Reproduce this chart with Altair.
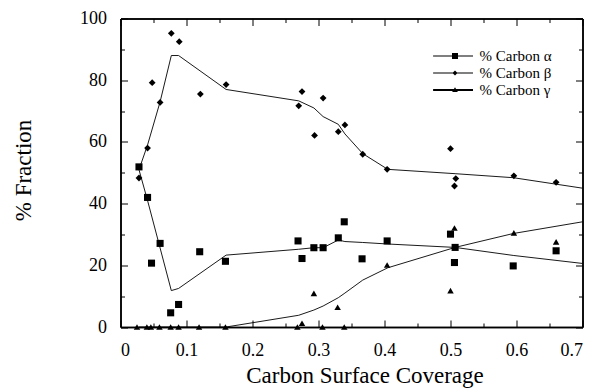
import altair as alt
import pandas as pd

# ---- data ----
series_names = ["% Carbon α", "% Carbon β", "% Carbon γ"]

alpha_x = [0.028, 0.041, 0.047, 0.060, 0.076, 0.088, 0.120, 0.159, 0.269, 0.275, 0.293,
           0.307, 0.330, 0.339, 0.366, 0.404, 0.500, 0.507, 0.506, 0.595, 0.660]
alpha_y = [51.9, 42.0, 20.7, 27.1, 4.6, 7.3, 24.4, 21.3, 27.9, 22.2, 25.7,
           25.7, 28.9, 34.1, 22.1, 27.9, 30.1, 25.8, 20.9, 19.8, 24.7]

beta_x = [0.028, 0.041, 0.048, 0.060, 0.077, 0.089, 0.121, 0.160, 0.270, 0.275, 0.294,
          0.307, 0.330, 0.340, 0.367, 0.404, 0.500, 0.508, 0.506, 0.596, 0.660]
beta_y = [48.3, 58.0, 79.2, 72.8, 95.2, 92.5, 75.5, 78.6, 71.7, 76.3, 62.1,
          74.2, 63.3, 65.5, 56.0, 51.1, 57.8, 48.1, 45.7, 49.0, 46.9]

gamma_x = [0.025, 0.040, 0.046, 0.059, 0.076, 0.088, 0.119, 0.159, 0.268, 0.275, 0.293,
           0.306, 0.329, 0.339, 0.404, 0.500, 0.506, 0.596, 0.660]
gamma_y = [0, 0, 0, 0, 0, 0, 0, 0, 0, 1.2, 10.9,
           0, 6.4, 0, 20.1, 11.8, 32.1, 30.5, 27.6]

line_x = [0.028, 0.041, 0.060, 0.077, 0.088, 0.160, 0.270, 0.293, 0.307, 0.330, 0.340,
          0.367, 0.405, 0.507, 0.595, 0.700]
alpha_line = [51.0, 41.0, 25.6, 11.8, 12.5, 23.3, 25.2, 25.7, 25.7, 28.2, 27.7,
              27.4, 26.9, 25.8, 23.2, 20.6]
beta_line = [51.0, 59.0, 73.0, 88.0, 88.0, 77.0, 73.3, 71.0, 68.2, 65.7, 62.6,
             56.2, 51.1, 49.7, 48.4, 45.0]
gamma_line = [0, 0, 0, 0, 0, 0, 3.8, 5.5, 6.8, 9.5, 11.0,
              15.2, 19.2, 25.8, 30.3, 34.1]

x_major = [0, 0.1, 0.2, 0.3, 0.4, 0.5, 0.6, 0.7]
x_minor = [0.05, 0.15, 0.25, 0.35, 0.45, 0.55, 0.65]
y_major = [0, 20, 40, 60, 80, 100]
y_minor = [10, 30, 50, 70, 90]

# ---- tables ----
pts = pd.concat([
    pd.DataFrame({"x": alpha_x, "y": alpha_y, "series": series_names[0]}),
    pd.DataFrame({"x": beta_x, "y": beta_y, "series": series_names[1]}),
    pd.DataFrame({"x": gamma_x, "y": gamma_y, "series": series_names[2]}),
], ignore_index=True)
lines = pd.concat([
    pd.DataFrame({"x": line_x, "y": alpha_line, "series": series_names[0]}),
    pd.DataFrame({"x": line_x, "y": beta_line, "series": series_names[1]}),
    pd.DataFrame({"x": line_x, "y": gamma_line, "series": series_names[2]}),
], ignore_index=True)

FONT = "Liberation Serif"
xs = alt.Scale(domain=[0, 0.7], nice=False, zero=False)
ys = alt.Scale(domain=[0, 100], nice=False)

def ax(orient, values, size, labels=False, **kw):
    return alt.Axis(orient=orient, values=values, tickSize=alt.ExprRef(expr=str(-size)),
                    labels=labels, grid=False, domainColor="black", domainWidth=1.5,
                    tickColor="black", tickWidth=1, **kw)

x_bottom = ax("bottom", x_major, 7, labels=True, title="Carbon Surface Coverage",
              format=".1~f", labelFont=FONT, labelFontSize=18, labelColor="black",
              labelPadding=21, titleFont=FONT, titleFontSize=23, titleFontWeight="normal",
              titleColor="black", titleY=55, titleX=244, titleBaseline="alphabetic")
y_left = ax("left", y_major, 7, labels=True, title="% Fraction",
            labelFont=FONT, labelFontSize=18, labelColor="black", labelPadding=21,
            titleFont=FONT, titleFontSize=23, titleFontWeight="normal", titleColor="black",
            titleX=-97, titleY=151.5, titleBaseline="middle")

line_layer = alt.Chart(lines).mark_line(color="black", strokeWidth=0.9).encode(
    x=alt.X("x:Q", scale=xs, axis=x_bottom),
    y=alt.Y("y:Q", scale=ys, axis=y_left),
    detail="series:N",
)

point_layer = alt.Chart(pts).mark_point(filled=True, color="black", opacity=1).encode(
    x=alt.X("x:Q", scale=xs, axis=ax("top", x_major, 7, title=None)),
    y=alt.Y("y:Q", scale=ys, axis=ax("right", y_major, 7, title=None)),
    shape=alt.Shape("series:N", scale=alt.Scale(domain=series_names,
                    range=["square", "diamond", "triangle-up"]), legend=None),
    size=alt.Size("series:N", scale=alt.Scale(domain=series_names, range=[50, 42, 48]),
                  legend=None),
)

# legend symbols: a line with the marker on it
leg_paths = [
    "M-7.3,-0.17L6,-0.17L6,0.17L-7.3,0.17Z M-1,-1L1,-1L1,1L-1,1Z",
    "M-7.3,-0.17L6,-0.17L6,0.17L-7.3,0.17Z M0,-0.85L0.85,0L0,0.85L-0.85,0Z",
    "M-7.3,-0.3L6,-0.3L6,0.3L-7.3,0.3Z M0,-0.95L0.95,0.7L-0.95,0.7Z",
]
legend_layer = alt.Chart(pts).transform_filter("false").mark_point(
    filled=True, color="black", size=36, opacity=1).encode(
    x=alt.X("x:Q", scale=xs, axis=ax("bottom", x_minor, 4, title=None)),
    y=alt.Y("y:Q", scale=ys, axis=ax("left", y_minor, 4, title=None)),
    shape=alt.Shape("series:N", scale=alt.Scale(domain=series_names, range=leg_paths),
                    legend=alt.Legend(title=None, orient="none", legendX=327, legendY=30,
                                      symbolSize=36, symbolFillColor="black",
                                      symbolStrokeWidth=0, symbolOpacity=1,
                                      labelFont=FONT, labelFontSize=15, labelColor="black",
                                      labelOffset=17, rowPadding=1, padding=0)),
)

minor_layer = alt.Chart(pts).transform_filter("false").mark_point(opacity=0).encode(
    x=alt.X("x:Q", scale=xs, axis=ax("top", x_minor, 4, title=None)),
    y=alt.Y("y:Q", scale=ys, axis=ax("right", y_minor, 4, title=None)),
)

chart = alt.layer(line_layer, point_layer, legend_layer, minor_layer).resolve_axis(
    x="independent", y="independent"
).resolve_scale(shape="independent").properties(
    width=462, height=308.5,
    autosize=alt.AutoSizeParams(type="none"),
    padding={"left": 120.5, "top": 18.5, "right": 12, "bottom": 61},
    background="white",
).configure(font=FONT).configure_axis(
    labelFont=FONT, titleFont=FONT
).configure_legend(labelFont=FONT, titleFont=FONT).configure_view(stroke=None)

chart.save("out.html", embed_options={"renderer": "svg", "actions": False})
